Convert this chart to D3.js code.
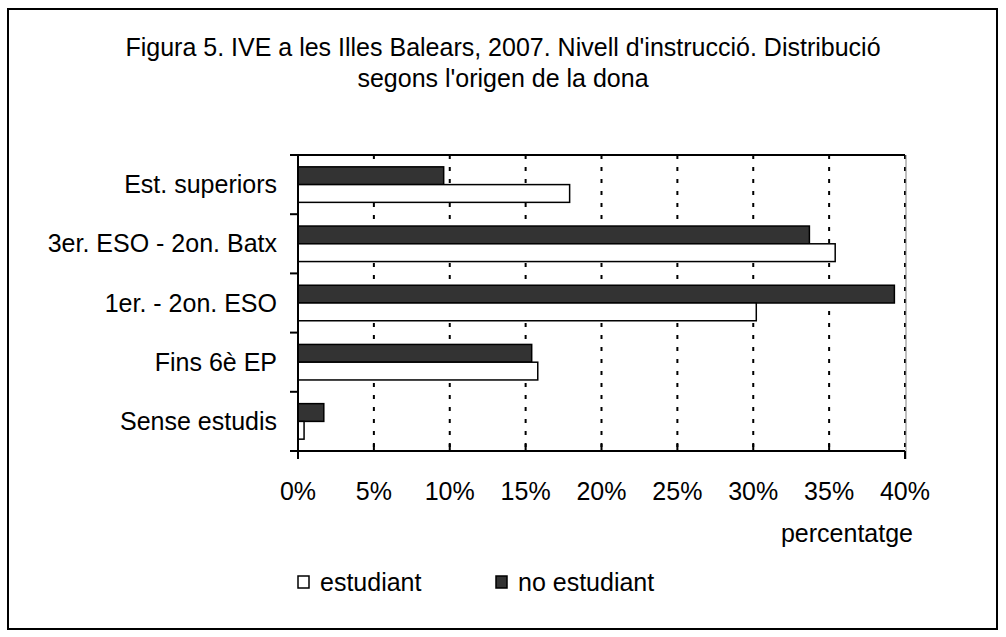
<!DOCTYPE html>
<html>
<head>
<meta charset="utf-8">
<script src="https://cdn.jsdelivr.net/npm/d3@7"></script>
<style>
body { margin: 0; background: #fff; }
text { font-family: "Liberation Sans", Arial, sans-serif; fill: #000; }
</style>
</head>
<body>
<div id="chart-box"></div>
<script>

var categories = ["Est. superiors", "3er. ESO - 2on. Batx", "1er. - 2on. ESO", "Fins 6è EP", "Sense estudis"];
var series = ["no estudiant", "estudiant"];
var estudiant = [17.9, 35.4, 30.2, 15.8, 0.4];
var noEstudiant = [9.6, 33.7, 39.3, 15.4, 1.7];
var xTicks = [0, 5, 10, 15, 20, 25, 30, 35, 40];
var titleLines = ["Figura 5. IVE a les Illes Balears, 2007. Nivell d'instrucció. Distribució", "segons l'origen de la dona"];

var darkColor = "#333333";
var lightColor = "#ffffff";

var W = 1006, H = 637;
var pLeft = 298, pRight = 905, pTop = 155, pBottom = 451;

var rows = categories.map(function (c, i) {
    return {cat: c, values: [{s: "no estudiant", v: noEstudiant[i]}, {s: "estudiant", v: estudiant[i]}]};
});

var svg = d3.select("#chart-box").append("svg")
    .attr("width", W)
    .attr("height", H);

// outer frame
svg.append("rect")
    .attr("x", 8).attr("y", 9)
    .attr("width", 989).attr("height", 620)
    .attr("fill", "none").attr("stroke", "#000").attr("stroke-width", 2);

// title
svg.selectAll(".title").data(titleLines).enter().append("text")
    .attr("class", "title")
    .attr("x", 503)
    .attr("y", function (d, i) { return 56 + i * 31; })
    .attr("text-anchor", "middle")
    .style("font-size", "25px")
    .text(function (d) { return d; });

var x = d3.scaleLinear().domain([0, 40]).range([pLeft, pRight]);
var y = d3.scaleBand().domain(categories).range([pTop, pBottom]);
var bw = y.bandwidth();
var y1 = d3.scaleBand().domain(series).range([bw * 0.2, bw * 0.8]);

/******* grid *******/
svg.append("g").selectAll("line").data(xTicks.slice(1)).enter().append("line")
    .attr("x1", function (d) { return x(d); })
    .attr("x2", function (d) { return x(d); })
    .attr("y1", pTop).attr("y2", pBottom)
    .attr("stroke", "#000").attr("stroke-width", 2)
    .attr("stroke-dasharray", "4,8");

// plot frame: top solid, right grey
svg.append("line").attr("x1", pLeft).attr("x2", pRight).attr("y1", pTop).attr("y2", pTop)
    .attr("stroke", "#000").attr("stroke-width", 2);
svg.append("line").attr("x1", pRight + 1).attr("x2", pRight + 1).attr("y1", pTop).attr("y2", pBottom + 8)
    .attr("stroke", "#808080").attr("stroke-width", 1);

/******* bars *******/
var groups = svg.append("g").selectAll("g").data(rows).enter().append("g")
    .attr("transform", function (d) { return "translate(0," + y(d.cat) + ")"; });

groups.selectAll("rect").data(function (d) { return d.values; }).enter().append("rect")
    .attr("x", x(0))
    .attr("y", function (d) { return y1(d.s); })
    .attr("width", function (d) { return x(d.v) - x(0); })
    .attr("height", y1.bandwidth())
    .attr("fill", function (d) { return d.s == "estudiant" ? lightColor : darkColor; })
    .attr("stroke", "#000").attr("stroke-width", 1.5);

/******* axes *******/
var yTicks = d3.range(categories.length + 1).map(function (i) { return pTop + i * bw; });
svg.append("line").attr("x1", pLeft).attr("x2", pLeft).attr("y1", pTop).attr("y2", pBottom + 8)
    .attr("stroke", "#000").attr("stroke-width", 2);
svg.append("g").selectAll("line").data(yTicks).enter().append("line")
    .attr("x1", pLeft - 8).attr("x2", pLeft)
    .attr("y1", function (d) { return d; }).attr("y2", function (d) { return d; })
    .attr("stroke", "#000").attr("stroke-width", 2);

svg.append("line").attr("x1", pLeft).attr("x2", pRight).attr("y1", pBottom).attr("y2", pBottom)
    .attr("stroke", "#000").attr("stroke-width", 2);
svg.append("g").selectAll("line").data(xTicks.slice(1, -1)).enter().append("line")
    .attr("x1", function (d) { return x(d); })
    .attr("x2", function (d) { return x(d); })
    .attr("y1", pBottom - 7).attr("y2", pBottom)
    .attr("stroke", "#000").attr("stroke-width", 2);
svg.append("line").attr("x1", pRight).attr("x2", pRight).attr("y1", pBottom).attr("y2", pBottom + 8)
    .attr("stroke", "#000").attr("stroke-width", 2);

// category labels
svg.selectAll(".cat").data(categories).enter().append("text")
    .attr("class", "cat")
    .attr("x", 277)
    .attr("y", function (d) { return y(d) + bw / 2 + 8.5; })
    .attr("text-anchor", "end")
    .style("font-size", "25px")
    .text(function (d) { return d; });

// x tick labels
svg.selectAll(".xt").data(xTicks).enter().append("text")
    .attr("class", "xt")
    .attr("x", function (d) { return x(d); })
    .attr("y", 500)
    .attr("text-anchor", "middle")
    .style("font-size", "25px")
    .text(function (d) { return d + "%"; });

svg.append("text")
    .attr("x", 913).attr("y", 542)
    .attr("text-anchor", "end")
    .style("font-size", "25px")
    .text("percentatge");

/******* legend *******/
var legend = [{s: "estudiant", x: 298, fill: lightColor}, {s: "no estudiant", x: 496, fill: darkColor}];
var lg = svg.selectAll(".lg").data(legend).enter().append("g")
    .attr("class", "lg")
    .attr("transform", function (d) { return "translate(" + d.x + ",576)"; });
lg.append("rect")
    .attr("width", 11).attr("height", 12)
    .attr("fill", function (d) { return d.fill; })
    .attr("stroke", "#000").attr("stroke-width", 1.5);
lg.append("text")
    .attr("x", 22).attr("y", 15)
    .style("font-size", "25px")
    .text(function (d) { return d.s; });

</script>
</body>
</html>
